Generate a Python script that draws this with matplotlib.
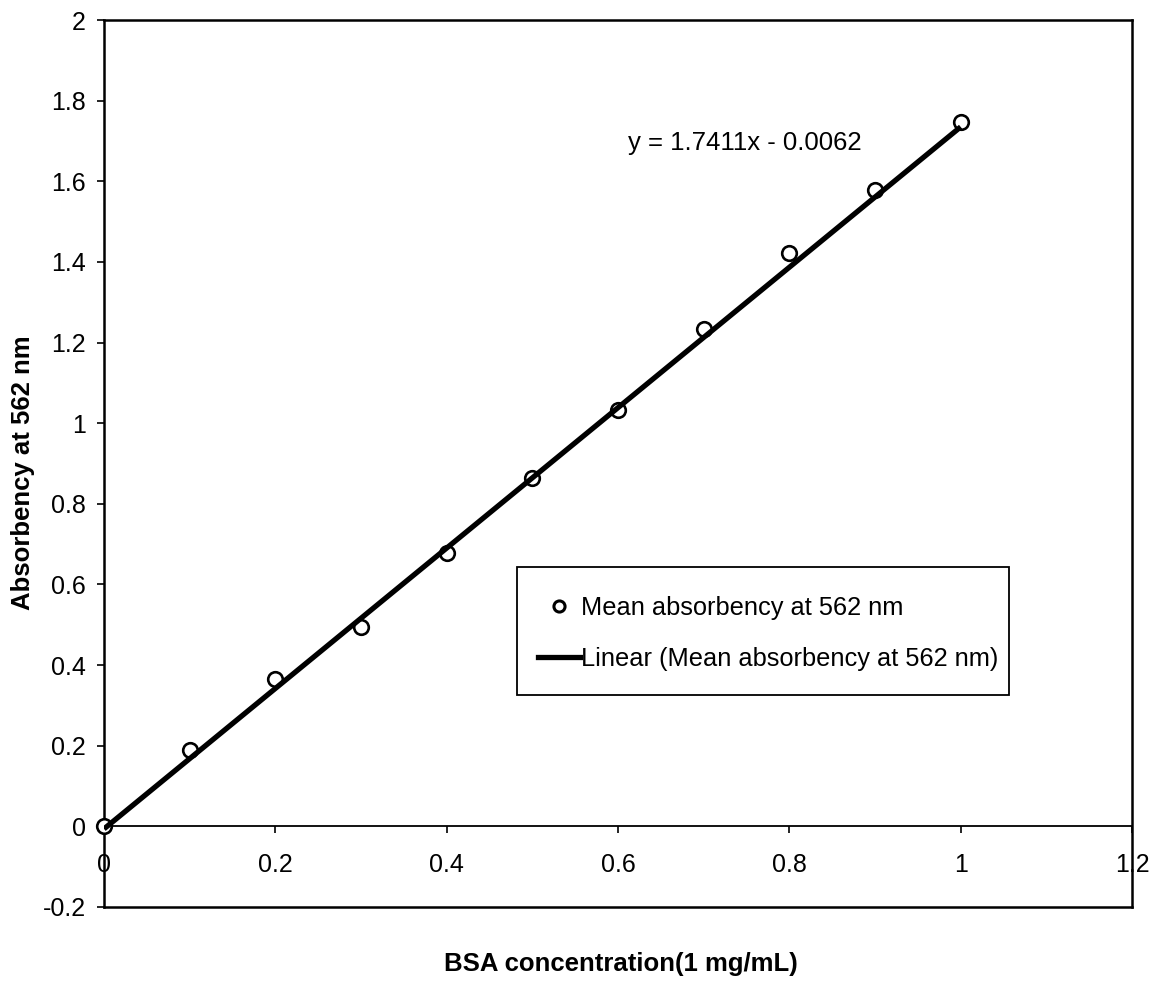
import matplotlib
matplotlib.use("Agg")
import matplotlib.pyplot as plt
from matplotlib.lines import Line2D
from matplotlib.patches import Rectangle

plt.rcParams['font.family'] = ['Liberation Sans', 'DejaVu Sans']

# Data
concentration = [0.0, 0.1, 0.2, 0.3, 0.4, 0.5, 0.6, 0.7, 0.8, 0.9, 1.0]
absorbency = [0.0, 0.189, 0.365, 0.494, 0.678, 0.865, 1.032, 1.233, 1.421, 1.578, 1.747]
slope = 1.7411
intercept = -0.0062
x_ticks = [0, 0.2, 0.4, 0.6, 0.8, 1.0, 1.2]
x_tick_labels = ['0', '0.2', '0.4', '0.6', '0.8', '1', '1.2']
y_ticks = [-0.2, 0, 0.2, 0.4, 0.6, 0.8, 1.0, 1.2, 1.4, 1.6, 1.8, 2.0]
y_tick_labels = ['-0.2', '0', '0.2', '0.4', '0.6', '0.8', '1', '1.2', '1.4', '1.6', '1.8', '2']
equation_text = 'y = 1.7411x - 0.0062'
series_label = 'Mean absorbency at 562 nm'
fit_label = 'Linear (Mean absorbency at 562 nm)'

fig = plt.figure(figsize=(11.69, 9.81), dpi=100)
W, H = 1169, 981
AX_L, AX_R, AX_T, AX_B = 104, 1132, 20, 907
ax = fig.add_axes([AX_L / W, 1 - AX_B / H, (AX_R - AX_L) / W, (AX_B - AX_T) / H])

def ax_frac(px, py):
    return (px - AX_L) / (AX_R - AX_L), (AX_B - py) / (AX_B - AX_T)

ax.set_xlim(0, 1.2)
ax.set_ylim(-0.2, 2.0)

# Points
ax.plot(concentration, absorbency, linestyle='none', marker='o', markersize=10.5,
        markerfacecolor='white', markeredgecolor='black', markeredgewidth=1.9,
        zorder=3, clip_on=False, label=series_label)
# Trendline
fit_x = [concentration[0], concentration[-1]]
fit_y = [slope * v + intercept for v in fit_x]
ax.plot(fit_x, fit_y, color='black', linewidth=3.8, zorder=4, label=fit_label,
        solid_capstyle='butt')

ax.text(0.748, 1.695, equation_text, fontsize=18.5, ha='center', va='center')

# Spines: box frame, bottom axis at zero
for s in ['left', 'top', 'right']:
    ax.spines[s].set_linewidth(1.8)
ax.spines['bottom'].set_position(('data', 0))
ax.spines['bottom'].set_linewidth(1.3)
ax.plot([0, 1], [0, 0], transform=ax.transAxes, color='black', linewidth=1.8,
        clip_on=False, zorder=5)

ax.set_xticks(x_ticks)
ax.set_xticklabels(x_tick_labels, fontsize=18)
ax.set_yticks(y_ticks)
ax.set_yticklabels(y_tick_labels, fontsize=18)
ax.tick_params(axis='x', direction='out', length=5, width=1.2, pad=14)
ax.tick_params(axis='y', direction='out', length=5, width=1.2, pad=8)

ax.set_xlabel('BSA concentration(1 mg/mL)', fontsize=18.5, fontweight='bold')
ax.xaxis.set_label_coords(0.503, -0.051)
ax.set_ylabel('Absorbency at 562 nm', fontsize=18.5, fontweight='bold')
ax.yaxis.set_label_coords(-0.067, 0.49)

# Legend box
bx0, by0 = ax_frac(517, 695)
bx1, by1 = ax_frac(1009, 567)
ax.add_patch(Rectangle((bx0, by0), bx1 - bx0, by1 - by0, transform=ax.transAxes,
                       facecolor='white', edgecolor='black', linewidth=1.3, zorder=6))

# Legend content
handles = [Line2D([], [], linestyle='none', marker='o', markersize=8,
                  markerfacecolor='white', markeredgecolor='black', markeredgewidth=2.2),
           Line2D([], [], color='black', linewidth=3.8)]
leg = ax.legend(handles, [series_label, fit_label], loc='upper left',
                bbox_to_anchor=ax_frac(538, 596),
                fontsize=18.3, frameon=False, handlelength=1.65, handletextpad=0.05,
                labelspacing=1.05, borderpad=0, borderaxespad=0)
leg.set_zorder(7)

fig.savefig('out.png', dpi=100)
